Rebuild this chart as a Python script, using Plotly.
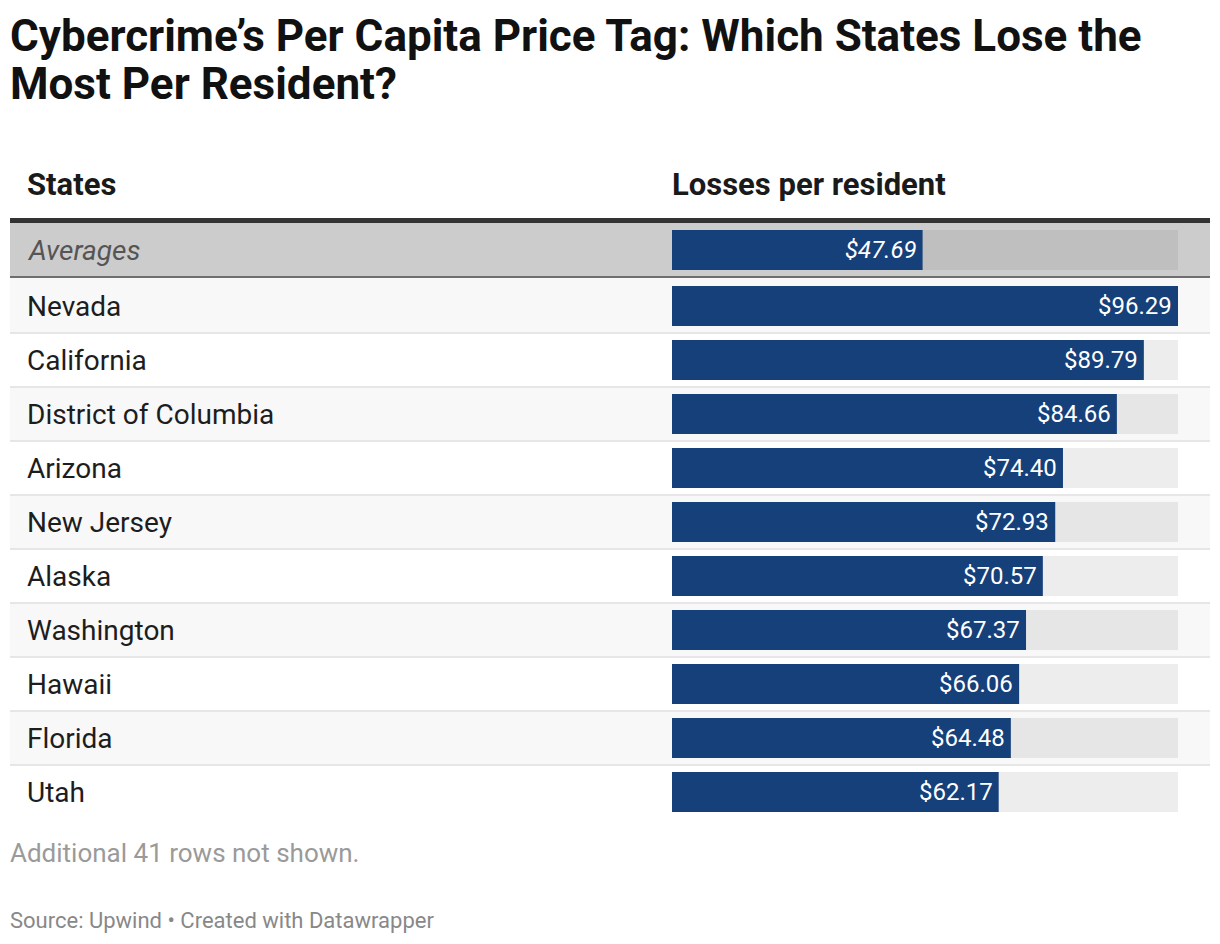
import plotly.graph_objects as go

# ---- data ----
avg_label = "Averages"
avg_value = 47.69
states = ["Nevada", "California", "District of Columbia", "Arizona", "New Jersey",
          "Alaska", "Washington", "Hawaii", "Florida", "Utah"]
losses = [96.29, 89.79, 84.66, 74.40, 72.93, 70.57, 67.37, 66.06, 64.48, 62.17]
title_lines = ["Cybercrime’s Per Capita Price Tag: Which States Lose the", "Most Per Resident?"]
col_headers = ["States", "Losses per resident"]
note_text = "Additional 41 rows not shown."
source_text = "Source: Upwind • Created with Datawrapper"

# ---- layout constants (pixels) ----
W, H = 1220, 944
TL, TR = 10, 1210          # table left/right
BAR_L, BAR_R = 672, 1178   # bar column
AVG_Y = 250
ROW0_Y = 306
ROW_H = 54
BAR_H = 40
BLUE = "#15407a"
FONT = "Roboto"

max_val = max(losses)
ys = [ROW0_Y + ROW_H * i for i in range(len(states))]

shapes = []
shapes.append(dict(type="rect", xref="x", yref="y", x0=TL, x1=TR, y0=218, y1=223,
                   fillcolor="#333333", line_width=0, layer="below"))
shapes.append(dict(type="rect", xref="x", yref="y", x0=TL, x1=TR, y0=223, y1=276,
                   fillcolor="#cccccc", line_width=0, layer="below"))
shapes.append(dict(type="rect", xref="x", yref="y", x0=TL, x1=TR, y0=276, y1=278,
                   fillcolor="#6e6e6e", line_width=0, layer="below"))
track_colors = []
for i, y in enumerate(ys):
    odd = (i % 2 == 0)
    bg = "#f8f8f8" if odd else "#ffffff"
    track_colors.append("#e6e6e6" if odd else "#ededed")
    top = 278 if i == 0 else y - ROW_H / 2 + 1
    shapes.append(dict(type="rect", xref="x", yref="y", x0=TL, x1=TR, y0=top, y1=y + ROW_H / 2,
                       fillcolor=bg, line_width=0, layer="below"))
    if i < len(states) - 1:
        shapes.append(dict(type="rect", xref="x", yref="y", x0=TL, x1=TR,
                           y0=y + ROW_H / 2 - 1, y1=y + ROW_H / 2 + 1,
                           fillcolor="#e6e6e6", line_width=0, layer="below"))

fig = go.Figure()
fig.add_trace(go.Bar(x=[max_val] + [max_val] * len(states), y=[AVG_Y] + ys,
                     orientation="h", width=BAR_H, xaxis="x2", yaxis="y",
                     marker=dict(color=["#bfbfbf"] + track_colors, line_width=0),
                     hoverinfo="skip", showlegend=False))
fig.add_trace(go.Bar(x=[avg_value] + losses, y=[AVG_Y] + ys,
                     orientation="h", width=BAR_H, xaxis="x2", yaxis="y",
                     marker=dict(color=BLUE, line_width=0),
                     hoverinfo="skip", showlegend=False))

annotations = []
for line, ty in zip(title_lines, [36, 84]):
    annotations.append(dict(text="<b>" + line + "</b>", xref="x", yref="y", x=8, y=ty,
                            xanchor="left", yanchor="middle", showarrow=False, align="left",
                            font=dict(family=FONT, size=44, color="#111111")))
annotations.append(dict(text="<b>" + col_headers[0] + "</b>", xref="x", yref="y", x=25, y=184,
                        xanchor="left", yanchor="middle", showarrow=False,
                        font=dict(family=FONT, size=31, color="#1a1a1a")))
annotations.append(dict(text="<b>" + col_headers[1] + "</b>", xref="x", yref="y", x=BAR_L - 2, y=184,
                        xanchor="left", yanchor="middle", showarrow=False,
                        font=dict(family=FONT, size=31, color="#1a1a1a")))
annotations.append(dict(text="<i>" + avg_label + "</i>", xref="x", yref="y", x=25, y=AVG_Y,
                        xanchor="left", yanchor="middle", showarrow=False,
                        font=dict(family=FONT, size=28, color="#555555")))
annotations.append(dict(text="<i>$%.2f</i>" % avg_value, xref="x2", yref="y", x=avg_value, y=AVG_Y,
                        xanchor="right", yanchor="middle", xshift=-4, showarrow=False,
                        font=dict(family=FONT, size=24, color="#ffffff")))
for s, v, y in zip(states, losses, ys):
    annotations.append(dict(text=s, xref="x", yref="y", x=25, y=y,
                            xanchor="left", yanchor="middle", showarrow=False,
                            font=dict(family=FONT, size=28, color="#1d1d1d")))
    annotations.append(dict(text="$%.2f" % v, xref="x2", yref="y", x=v, y=y,
                            xanchor="right", yanchor="middle", xshift=-4, showarrow=False,
                            font=dict(family=FONT, size=24, color="#ffffff")))
annotations.append(dict(text=note_text, xref="x", yref="y", x=8, y=853,
                        xanchor="left", yanchor="middle", showarrow=False,
                        font=dict(family=FONT, size=26, color="#9a9a9a")))
annotations.append(dict(text=source_text, xref="x", yref="y", x=8, y=920,
                        xanchor="left", yanchor="middle", showarrow=False,
                        font=dict(family=FONT, size=22, color="#888888")))

fig.update_layout(
    width=W, height=H,
    margin=dict(l=0, r=0, t=0, b=0),
    paper_bgcolor="#ffffff", plot_bgcolor="rgba(0,0,0,0)",
    barmode="overlay",
    xaxis=dict(range=[0, W], visible=False, fixedrange=True, domain=[0, 1]),
    xaxis2=dict(range=[0, max_val], domain=[BAR_L / W, BAR_R / W], visible=False,
                anchor="y", fixedrange=True),
    yaxis=dict(range=[H, 0], visible=False, fixedrange=True),
    shapes=shapes,
    annotations=annotations,
)

fig.write_html("out.html", config={"displayModeBar": False},
               post_script="document.body.style.margin='0';document.body.style.padding='0';")
